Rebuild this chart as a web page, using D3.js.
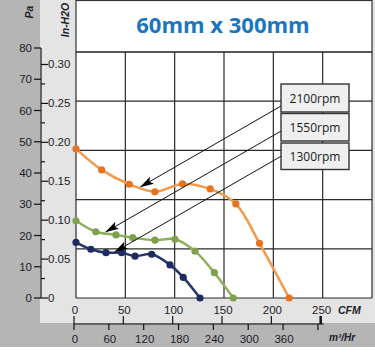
<!DOCTYPE html>
<html>
<head>
<meta charset="utf-8">
<script src="https://cdn.jsdelivr.net/npm/d3@7"></script>
<style>
  body { margin: 0; background: #fff; }
  svg { display: block; }
</style>
</head>
<body>
<div id="chart"></div>
<script>
// curve data (CFM vs Pa)
var rpmLabels = ["2100rpm", "1550rpm", "1300rpm"];
var cfm2100 = [0, 26, 54, 80, 108, 136, 162, 186, 216];
var pa2100  = [47.7, 41, 36.4, 34, 36.5, 34.9, 30.1, 17.5, 0];
var cfm1550 = [0, 20, 40.5, 57.5, 80, 100.3, 120.6, 140.2, 159.4];
var pa1550  = [24.7, 21.2, 20.2, 19.3, 18.5, 18.8, 15.0, 8.1, 0];
var cfm1300 = [0, 15, 30.4, 46.3, 59.8, 76.7, 95.3, 108.7, 125.7];
var pa1300  = [17.8, 15.6, 14.5, 14.5, 13.4, 14.0, 10.6, 6.6, 0];

// where each callout arrow points (CFM, Pa)
var tipCfm = [65.6, 30.4, 39.5];
var tipPa  = [35.6, 21.2, 14.8];

var cfmTicks = [0, 50, 100, 150, 200, 250];
var m3Ticks  = [0, 60, 120, 180, 240, 300, 360];
var m3Extra  = [420];
var paTicks  = [0, 10, 20, 30, 40, 50, 60, 70, 80];
var inTicks  = [0, 0.05, 0.10, 0.15, 0.20, 0.25, 0.30];
var inMinor  = [0.025, 0.075, 0.125, 0.175, 0.225, 0.275];

var lineColors = ["#f39a4c", "#8fae5e", "#25346a"];
var dotColors  = ["#e5731f", "#7fa04c", "#1e2b5e"];

var W = 375, H = 352;
var plotL = 76, plotR = 372, plotT = 52, plotB = 298;
var PA_PER_IN = 249.09;
var textCol = "#1c1c28";

var svg = d3.select("#chart").append("svg")
  .attr("width", W)
  .attr("height", H);

var x = d3.scaleLinear().domain([0, 300]).range([plotL, plotR]);
var y = d3.scaleLinear().domain([0, 80]).range([plotB, 48]);
var yIn = d3.scaleLinear().domain([0, 80 / PA_PER_IN]).range([plotB, 48]);
var xM3 = d3.scaleLinear().domain([0, 300 * 1.699]).range([plotL, plotR]);

// background bands
svg.append("rect").attr("x", 0).attr("y", 0).attr("width", 40).attr("height", 347).attr("fill", "#b5b5b5");
svg.append("rect").attr("x", 40).attr("y", 0).attr("width", W - 40).attr("height", 323).attr("fill", "#e4e4e4");
svg.append("rect").attr("x", 2).attr("y", 323).attr("width", W - 2).attr("height", 24).attr("fill", "#b5b5b5");
svg.append("rect").attr("x", plotL).attr("y", 0).attr("width", plotR - plotL).attr("height", plotB).attr("fill", "#fff");

// title box
svg.append("rect")
  .attr("x", plotL).attr("y", 0.5)
  .attr("width", plotR - plotL).attr("height", plotT - 0.5)
  .attr("fill", "#fff").attr("stroke", "#333").attr("stroke-width", 1.2);

svg.append("text")
  .attr("x", 223).attr("y", 33)
  .attr("text-anchor", "middle")
  .attr("font-family", "'Open Sans', sans-serif")
  .attr("font-weight", 700)
  .attr("font-size", 22)
  .attr("fill", "#1b76c0")
  .text("60mm x 300mm");

// grid
var grid = svg.append("g").attr("stroke", "#2a2a2a").attr("stroke-width", 1.2);
d3.range(0, 301, 50).forEach(function(v) {
  grid.append("line").attr("x1", x(v)).attr("x2", x(v)).attr("y1", plotT).attr("y2", plotB);
});
d3.range(6).forEach(function(i) {
  var gy = plotT + i * (plotB - plotT) / 5;
  grid.append("line").attr("x1", plotL).attr("x2", plotR).attr("y1", gy).attr("y2", gy);
});

// left axes: Pa (ticks left) and In-H2O (ticks right)
var axisX = 41;
var ax = svg.append("g").attr("font-family", "'Liberation Sans', Arial, sans-serif").attr("font-size", 11.5).attr("fill", textCol);
ax.append("line").attr("x1", axisX).attr("x2", axisX).attr("y1", y(80)).attr("y2", y(0)).attr("stroke", "#111").attr("stroke-width", 1.2);
paTicks.forEach(function(v) {
  ax.append("line").attr("x1", axisX - 7).attr("x2", axisX).attr("y1", y(v)).attr("y2", y(v)).attr("stroke", "#111").attr("stroke-width", 1.2);
  ax.append("text").attr("x", axisX - 9).attr("y", y(v) + 4).attr("text-anchor", "end").text(v);
});
inTicks.forEach(function(v) {
  ax.append("line").attr("x1", axisX).attr("x2", axisX + 7).attr("y1", yIn(v)).attr("y2", yIn(v)).attr("stroke", "#111").attr("stroke-width", 1.2);
  ax.append("text").attr("x", axisX + 7).attr("y", yIn(v) + 4).text(v === 0 ? "0" : d3.format(".2f")(v));
});
inMinor.forEach(function(v) {
  ax.append("line").attr("x1", axisX).attr("x2", axisX + 4).attr("y1", yIn(v)).attr("y2", yIn(v)).attr("stroke", "#111").attr("stroke-width", 1.2);
});

svg.append("text")
  .attr("transform", "translate(33,12) rotate(-90)")
  .attr("text-anchor", "middle")
  .attr("font-family", "'Liberation Sans', Arial, sans-serif")
  .attr("font-weight", 700).attr("font-style", "italic").attr("font-size", 10.5)
  .attr("fill", textCol).text("Pa");
svg.append("text")
  .attr("transform", "translate(69,20) rotate(-90)")
  .attr("text-anchor", "middle")
  .attr("font-family", "'Liberation Sans', Arial, sans-serif")
  .attr("font-weight", 700).attr("font-style", "italic").attr("font-size", 10.5)
  .attr("fill", textCol).text("In-H2O");

// bottom axes: CFM (ticks up) and m3/Hr (ticks down)
var axisY = 324;
var bx = svg.append("g").attr("font-family", "'Liberation Sans', Arial, sans-serif").attr("font-size", 11.5).attr("fill", textCol);
bx.append("line").attr("x1", x(0) - 2).attr("x2", x(250) + 1).attr("y1", axisY).attr("y2", axisY).attr("stroke", "#111").attr("stroke-width", 1.2);
cfmTicks.forEach(function(v) {
  bx.append("line").attr("x1", x(v) - 2).attr("x2", x(v) - 2).attr("y1", axisY - 8).attr("y2", axisY)
    .attr("stroke", "#111").attr("stroke-width", v === 250 ? 2.5 : 1.2);
  bx.append("text").attr("x", x(v) - 1).attr("y", axisY - 10).attr("text-anchor", "middle").text(v);
});
m3Ticks.concat(m3Extra).forEach(function(v) {
  bx.append("line").attr("x1", xM3(v) - 2).attr("x2", xM3(v) - 2).attr("y1", axisY).attr("y2", axisY + 6)
    .attr("stroke", "#111").attr("stroke-width", 1.2);
});
m3Ticks.forEach(function(v) {
  bx.append("text").attr("x", xM3(v) - 1).attr("y", axisY + 19).attr("text-anchor", "middle").text(v);
});
svg.append("text")
  .attr("x", 338).attr("y", 314)
  .attr("font-family", "'Liberation Sans', Arial, sans-serif")
  .attr("font-weight", 700).attr("font-style", "italic").attr("font-size", 10.5)
  .attr("fill", textCol).text("CFM");
svg.append("text")
  .attr("x", 342).attr("y", 341).attr("text-anchor", "middle")
  .attr("font-family", "'Liberation Sans', Arial, sans-serif")
  .attr("font-weight", 700).attr("font-style", "italic").attr("font-size", 10)
  .attr("fill", textCol).text("m³/Hr");

// curves
var series = [
  d3.zip(cfm2100, pa2100),
  d3.zip(cfm1550, pa1550),
  d3.zip(cfm1300, pa1300)
];
var line = d3.line()
  .curve(d3.curveCatmullRom.alpha(0.5))
  .x(function(d) { return x(d[0]); })
  .y(function(d) { return y(d[1]); });

series.forEach(function(s, i) {
  svg.append("path")
    .datum(s)
    .attr("fill", "none")
    .attr("stroke", lineColors[i])
    .attr("stroke-width", 2.5)
    .attr("stroke-linejoin", "round")
    .attr("d", line);
  svg.append("g").selectAll("circle")
    .data(s)
    .enter().append("circle")
    .attr("cx", function(d) { return x(d[0]); })
    .attr("cy", function(d) { return y(d[1]); })
    .attr("r", 3.6)
    .attr("fill", dotColors[i]);
});

// callout arrows
svg.append("defs").append("marker")
  .attr("id", "arrow")
  .attr("markerUnits", "userSpaceOnUse")
  .attr("markerWidth", 14).attr("markerHeight", 8)
  .attr("refX", 13).attr("refY", 4)
  .attr("orient", "auto")
  .append("path").attr("d", "M0,0 L14,4 L0,8 L3,4 Z").attr("fill", "#000");

var boxX = 281, boxW = 68;
var boxY = [84, 113.5, 143], boxH = [28, 27.5, 26.5];
var slope = 0.575;
tipCfm.forEach(function(c, i) {
  var tx = x(c), ty = y(tipPa[i]);
  svg.append("line")
    .attr("x1", boxX).attr("y1", ty - slope * (boxX - tx))
    .attr("x2", tx).attr("y2", ty)
    .attr("stroke", "#111").attr("stroke-width", 1)
    .attr("marker-end", "url(#arrow)");
});

// legend boxes
rpmLabels.forEach(function(lbl, i) {
  svg.append("rect")
    .attr("x", boxX).attr("y", boxY[i])
    .attr("width", boxW).attr("height", boxH[i])
    .attr("fill", "#efefef").attr("stroke", "#333").attr("stroke-width", 1.4);
  svg.append("text")
    .attr("x", boxX + boxW / 2).attr("y", boxY[i] + boxH[i] / 2 + 4.5)
    .attr("text-anchor", "middle")
    .attr("font-family", "'Open Sans', sans-serif")
    .attr("font-size", 12)
    .attr("fill", "#1a1a1a")
    .text(lbl);
});
</script>
</body>
</html>
